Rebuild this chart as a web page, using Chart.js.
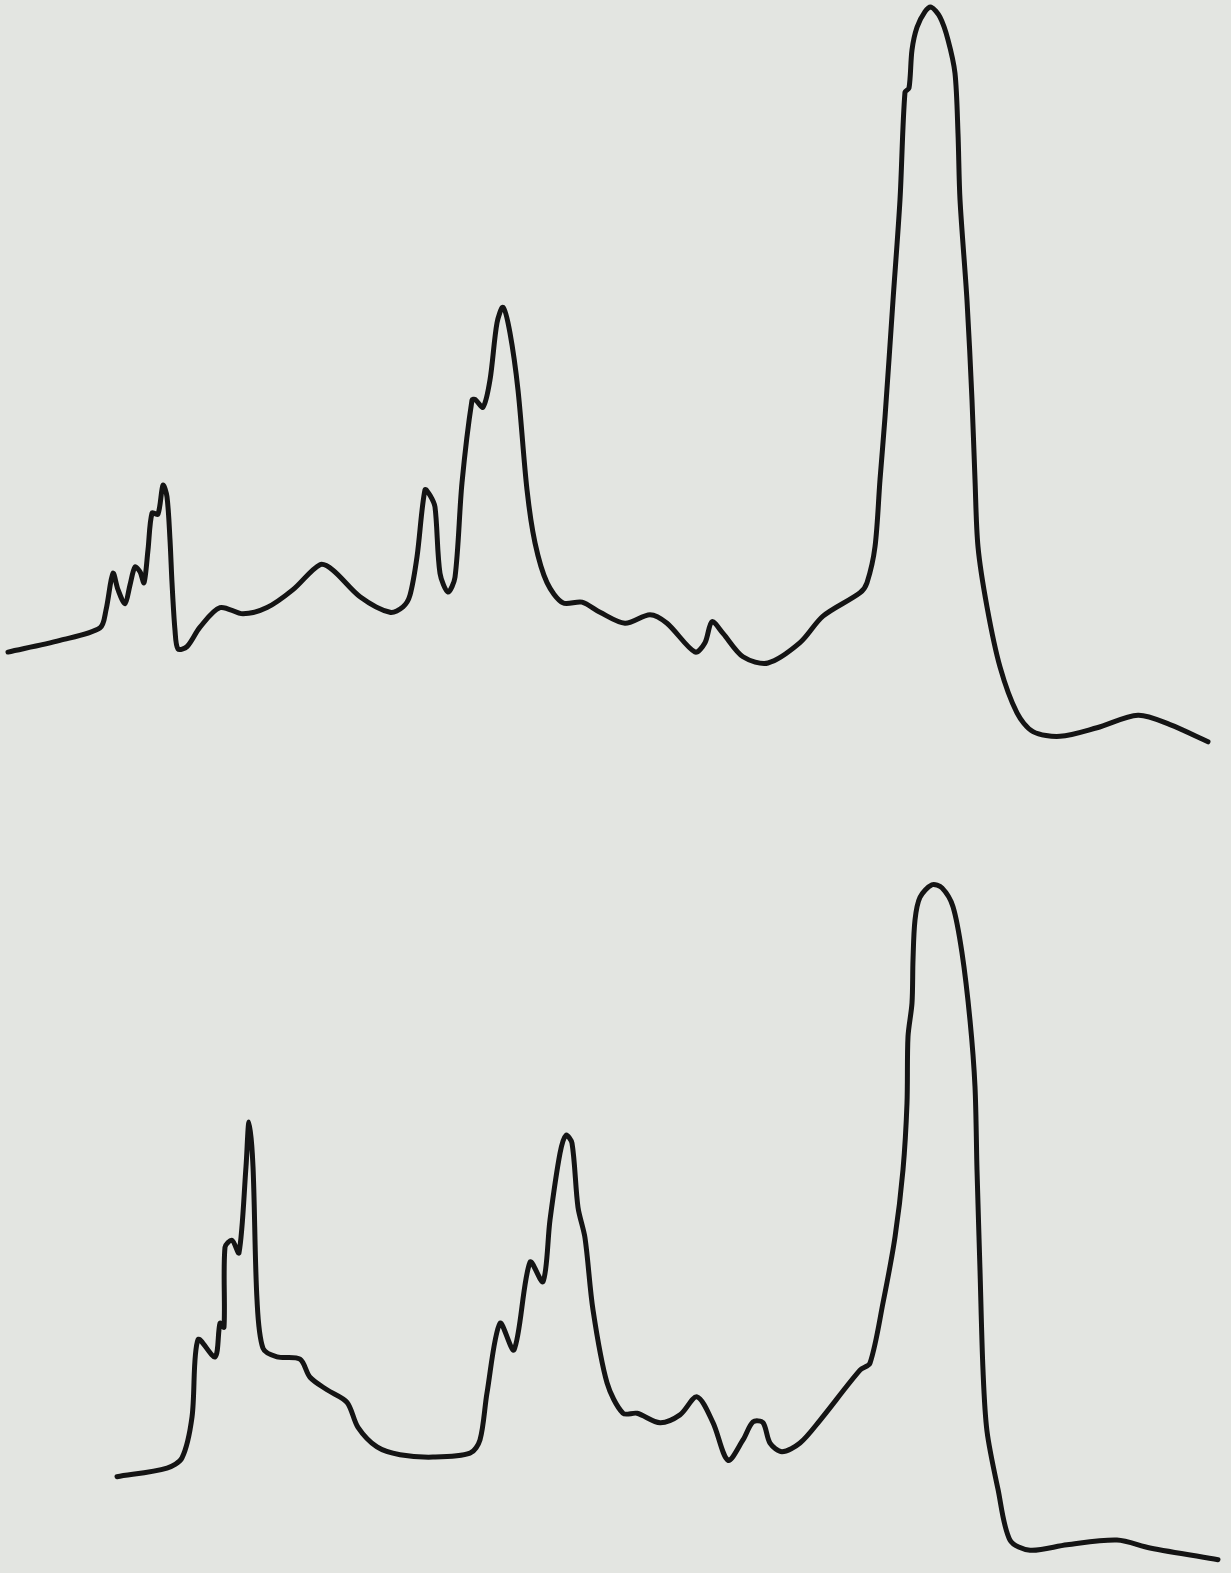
<!DOCTYPE html>
<html>
<head>
<meta charset="utf-8">
<script src="https://cdn.jsdelivr.net/npm/chart.js@4.4.1/dist/chart.umd.min.js"></script>
<style>
    html, body {
        margin: 0;
        padding: 0;
        width: 1231px;
        height: 1573px;
        background: #e3e5e1;
        overflow: hidden;
    }
    .scan {
        position: absolute;
        left: 0;
        width: 1231px;
    }
    #topBox { top: 0; height: 780px; }
    #bottomBox { top: 790px; height: 783px; }
</style>
</head>
<body>
<div class="scan" id="topBox"><canvas id="topScan"></canvas></div>
<div class="scan" id="bottomBox"><canvas id="bottomScan"></canvas></div>

<script>
// upper trace: scan distance (mm) and relative density
const topDistance = [
    0.8, 6.0, 10.0, 10.6, 11.3, 11.8, 12.5, 13.0, 13.5, 14.0, 14.4, 14.8, 15.2, 15.8, 16.3, 16.7,
    17.0, 17.2, 17.5, 17.8, 18.7, 20.0, 22.0, 24.3, 26.7, 29.3, 32.0, 33.3, 36.0, 39.0, 40.3, 41.0,
    41.7, 42.5, 43.0, 43.5, 44.0, 44.8, 45.5, 46.2, 47.2, 47.5, 48.3, 49.0, 49.7, 50.3, 51.0, 51.8,
    52.7, 53.5, 54.7, 56.3, 58.2, 60.0, 62.5, 65.0, 66.7, 69.5, 70.5, 71.2, 72.3, 74.3, 76.8, 80.0,
    82.3, 86.0, 86.7, 87.5, 88.0, 88.5, 89.3, 90.0, 90.5, 90.9, 91.2, 91.7, 92.5, 93.1, 94.0, 94.8,
    95.5, 95.8, 96.0, 96.7, 97.2, 97.5, 97.8, 98.7, 100.0, 101.7, 103.3, 106.0, 109.7, 113.8, 117.0,
    120.8
];
const topDensity = [
    16.4, 17.9, 19.5, 21.8, 26.5, 24.4, 22.6, 25.0, 27.3, 26.7, 25.3, 29.5, 34.2, 34.1, 37.8, 36.3,
    30.8, 25.3, 19.2, 16.8, 17.1, 19.6, 22.1, 21.3, 22.1, 24.4, 27.6, 26.9, 23.5, 21.5, 22.2, 23.7,
    28.6, 37.2, 36.5, 35.0, 26.5, 24.1, 26.0, 38.1, 48.7, 48.8, 47.8, 51.3, 58.6, 60.6, 57.3, 50.0,
    37.2, 30.4, 25.3, 22.7, 22.8, 21.5, 20.1, 21.2, 20.1, 16.4, 17.6, 20.3, 18.8, 15.8, 15.0, 17.6,
    21.0, 24.0, 25.3, 29.9, 38.5, 46.5, 61.5, 74.4, 88.2, 88.7, 93.6, 96.5, 98.5, 99.1, 97.8, 94.9,
    90.6, 82.9, 74.4, 61.5, 48.7, 38.5, 29.9, 22.2, 14.5, 8.6, 6.2, 5.6, 6.7, 8.3, 7.1,
    4.9
];

// lower trace
const bottomDistance = [
    11.7, 16.7, 18.2, 19.2, 19.8, 21.5, 22.0, 22.4, 22.5, 23.2, 23.9, 24.6, 24.9, 25.3, 25.7, 26.3,
    27.7, 30.0, 31.0, 32.7, 34.7, 35.8, 37.7, 40.0, 43.3, 47.0, 48.0, 48.7, 50.0, 51.4, 53.0, 54.3,
    55.0, 56.0, 56.6, 57.2, 57.8, 58.5, 59.3, 60.7, 62.3, 63.7, 66.0, 68.0, 69.7, 71.3, 72.8, 74.3,
    75.3, 76.3, 77.0, 78.2, 80.0, 82.0, 86.0, 87.0, 88.3, 89.5, 90.3, 90.7, 90.8, 91.2, 91.3, 91.5,
    92.0, 93.2, 94.2, 95.3, 96.2, 97.0, 97.5, 97.7, 98.0, 98.3, 98.7, 99.8, 101.0, 103.0, 106.7,
    111.7, 115.0, 121.8
];
const bottomDensity = [
    12.3, 13.4, 14.7, 19.9, 29.8, 27.6, 31.9, 31.4, 41.6, 42.5, 40.9, 51.9, 57.6, 51.9, 34.9, 28.7,
    27.6, 27.3, 25.0, 23.4, 21.8, 18.6, 16.1, 15.1, 14.8, 15.3, 17.0, 23.0, 31.9, 28.5, 39.7, 37.2,
    45.1, 53.6, 55.9, 54.9, 46.7, 42.8, 33.6, 24.3, 20.4, 20.4, 19.2, 20.2, 22.5, 19.2, 14.4, 17.0,
    19.3, 19.2, 16.6, 15.5, 16.6, 19.5, 25.9, 26.8, 34.5, 42.9, 51.5, 60.0, 68.5, 72.8, 78.3, 83.4,
    86.3, 87.9, 87.5, 85.1, 79.2, 70.6, 62.1, 51.5, 38.7, 25.9, 18.1, 10.7, 4.2, 2.9, 3.6,
    4.2, 3.2, 1.7
];

const distanceRange = [0, 123.1];
const densityRange = [0, 100];

function toPoints(xs, ys) {
    return xs.map((x, i) => ({ x: x, y: ys[i] }));
}

function drawScan(canvasId, xs, ys) {
    const ctx = document.getElementById(canvasId);
    return new Chart(ctx, {
        type: 'line',
        data: {
            datasets: [{
                data: toPoints(xs, ys),
                borderColor: '#141414',
                borderWidth: 5,
                pointRadius: 0,
                fill: false,
                tension: 0.3,
                borderCapStyle: 'round',
                borderJoinStyle: 'round'
            }]
        },
        options: {
            responsive: true,
            maintainAspectRatio: false,
            animation: false,
            layout: { padding: 0 },
            plugins: {
                legend: { display: false },
                tooltip: { enabled: false }
            },
            scales: {
                x: {
                    type: 'linear',
                    min: distanceRange[0],
                    max: distanceRange[1],
                    display: false
                },
                y: {
                    min: densityRange[0],
                    max: densityRange[1],
                    display: false
                }
            }
        }
    });
}

drawScan('topScan', topDistance, topDensity);
drawScan('bottomScan', bottomDistance, bottomDensity);
</script>
</body>
</html>
